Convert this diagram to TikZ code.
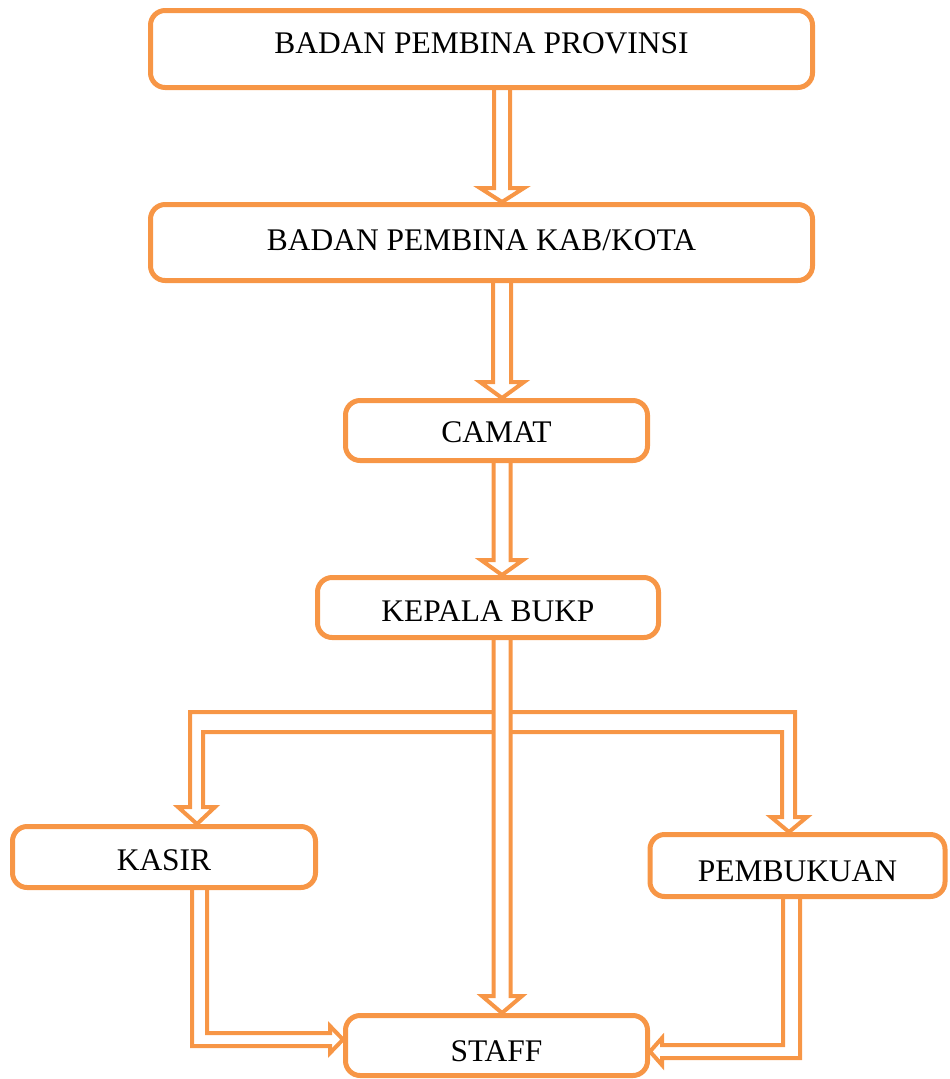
\documentclass[tikz,border=0pt]{standalone}
\usepackage{fontspec}
\setmainfont{Liberation Serif}
\usetikzlibrary{calc}
\definecolor{org}{HTML}{F79646}
\newcommand\blockdown[5]{%
  \draw[blk] ($(#1)+(-#3,0)$) -- ($(#2)+(-#3,-#5)$) -- ($(#2)+(-#4,-#5)$) -- (#2)
     -- ($(#2)+(#4,-#5)$) -- ($(#2)+(#3,-#5)$) -- ($(#1)+(#3,0)$);}
\begin{document}
\begin{tikzpicture}[x=0.75pt,y=-0.75pt,
  box/.style={draw=org,line width=3.75pt,rounded corners=11pt,inner sep=0pt,
    font=\fontsize{23.6pt}{28pt}\selectfont,text height=15.5pt,text depth=0pt},
  blk/.style={draw=org,line width=3pt}]
\useasboundingbox (0,0) rectangle (950,1079);
% boxes
\node[box,minimum width=496.5pt,minimum height=57.75pt,text depth=9pt] (prov) at (481.5,49) {BADAN PEMBINA PROVINSI};
\node[box,minimum width=496.5pt,minimum height=57pt,text depth=3pt] (kab) at (481.5,242.5) {BADAN PEMBINA KAB/KOTA};
\node[box,minimum width=226.5pt,minimum height=45pt,text height=18.5pt] (camat) at (496.5,430.5) {CAMAT};
\node[box,minimum width=255.75pt,minimum height=45pt,text height=21.5pt] (kepala) at (488,607.5) {KEPALA BUKP};
\node[box,minimum width=227.25pt,minimum height=45.75pt,text height=20pt] (kasir) at (164,857) {KASIR};
\node[box,minimum width=221.25pt,minimum height=46.5pt,text height=24.5pt] (pemb) at (797.5,865.5) {PEMBUKUAN};
\node[box,minimum width=226.5pt,minimum height=45pt,text height=24.5pt] (staff) at (496.5,1045.5) {STAFF};
% helper coordinates
\coordinate (ax) at (502,0);
\coordinate (lx) at (197,0);
\coordinate (rx) at (789,0);
\coordinate (a1s) at (prov.south -| ax);
\coordinate (a1t) at (kab.north -| ax);
\coordinate (a2s) at (kab.south -| ax);
\coordinate (a2t) at (camat.north -| ax);
\coordinate (a3s) at (camat.south -| ax);
\coordinate (a3t) at (kepala.north -| ax);
\coordinate (a4s) at (kepala.south -| ax);
\coordinate (a4t) at (staff.north -| ax);
\coordinate (kt) at (kasir.north -| lx);
\coordinate (pt) at (pemb.north -| rx);
\coordinate (sl) at ($(staff.west)+(0,-6)$);
\coordinate (sr) at ($(staff.east)+(0,6)$);
% vertical block arrows
\blockdown{a1s}{a1t}{8}{22}{14}
\blockdown{a2s}{a2t}{9}{22}{16}
\blockdown{a3s}{a3t}{8.5}{21}{15}
\blockdown{a4s}{a4t}{8.5}{20}{17}
% branch to KASIR
\draw[blk] (494,732) -- (203,732) -- ($(kt)+(6,-17)$) -- ($(kt)+(18,-17)$) -- (kt)
  -- ($(kt)+(-19,-17)$) -- ($(kt)+(-7,-17)$) -- (190,712) -- (494,712);
% branch to PEMBUKUAN
\draw[blk] (510,712) -- (795,712) -- ($(pt)+(6,-15)$) -- ($(pt)+(18,-15)$) -- (pt)
  -- ($(pt)+(-18,-15)$) -- ($(pt)+(-7,-15)$) -- (782,732) -- (510,732);
% KASIR to STAFF
\draw[blk] (kasir.south -| 207,0) -- (207,1033) -- ($(sl)+(-13,-6.5)$) -- ($(sl)+(-13,-13.5)$) -- (sl)
  -- ($(sl)+(-13,13.5)$) -- ($(sl)+(-13,6.5)$) -- (192,1046) -- (kasir.south -| 192,0);
% PEMBUKUAN to STAFF
\draw[blk] (pemb.south -| 783,0) -- (783,1045) -- ($(sr)+(12,-6.5)$) -- ($(sr)+(12,-13.5)$) -- (sr)
  -- ($(sr)+(12,13.5)$) -- ($(sr)+(12,6.5)$) -- (800,1058) -- (pemb.south -| 800,0);
\end{tikzpicture}
\end{document}
